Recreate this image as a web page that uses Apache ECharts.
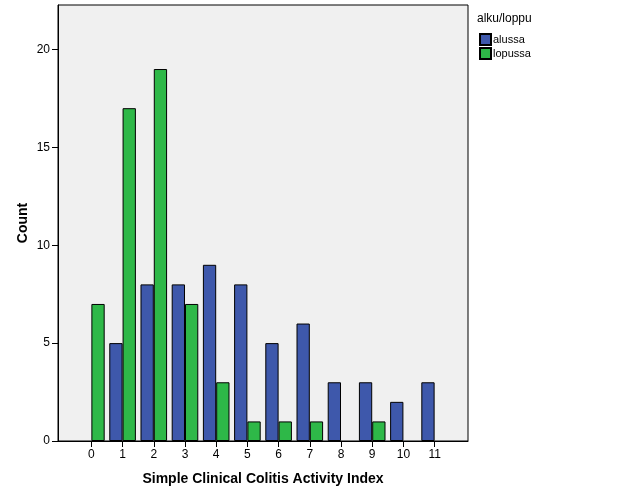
<!DOCTYPE html>
<html>
<head>
<meta charset="utf-8">
<script src="https://cdn.jsdelivr.net/npm/echarts@6/dist/echarts.min.js"></script>
<style>
html,body{margin:0;padding:0;background:#fff;}
#c{width:626px;height:501px;}
</style>
</head>
<body>
<div id="c"></div>
<script>
const categories = [0,1,2,3,4,5,6,7,8,9,10,11];
const alussa  = [0,5,8,8,9,8,5,6,3,3,2,3];
const lopussa = [7,17,19,7,3,1,1,1,0,1,0,0];
const yTicks = [0,5,10,15,20];
const legendTitle = 'alku/loppu';
const seriesNames = ['alussa','lopussa'];

const FONT = 'Liberation Sans, Arial, sans-serif';
function toData(vals){ return vals.map((v,i)=> v === 0 ? [categories[i], '-'] : [categories[i], v]); }

const chart = echarts.init(document.getElementById('c'));
chart.setOption({
  backgroundColor:'#fff',
  animation:false,
  textStyle:{fontFamily:FONT},
  title:{text:legendTitle,left:477,top:13,padding:0,textStyle:{fontSize:12,fontWeight:'normal',color:'#000',fontFamily:FONT}},
  legend:{
    orient:'vertical',left:479,top:33,padding:0,itemWidth:11,itemHeight:11,itemGap:1,
    icon:'rect',
    textStyle:{fontSize:11,color:'#000',fontFamily:FONT,padding:[0,0,0,-3]},
    data:seriesNames
  },
  grid:{left:58,top:5,width:410,height:436,show:true,backgroundColor:'#f0f0f0',borderColor:'#000',borderWidth:1,containLabel:false},
  xAxis:{
    type:'value',min:-1.07,max:12.07,
    name:'Simple Clinical Colitis Activity Index',nameLocation:'middle',nameGap:31,nameMoveOverlap:false,
    nameTextStyle:{fontSize:14,fontWeight:'bold',color:'#000',fontFamily:FONT},
    axisLine:{show:true,onZero:false,lineStyle:{color:'#000',width:1}},
    axisTick:{show:true,length:6,lineStyle:{color:'#000',width:1},customValues:categories},
    axisLabel:{color:'#000',fontSize:12,margin:8,customValues:categories,fontFamily:FONT},
    splitLine:{show:false}
  },
  yAxis:{
    type:'value',min:0,max:22.27,
    name:'Count',nameLocation:'middle',nameGap:28,nameMoveOverlap:false,
    nameTextStyle:{fontSize:14,fontWeight:'bold',color:'#000',fontFamily:FONT},
    axisLine:{show:true,onZero:false,lineStyle:{color:'#000',width:1}},
    axisTick:{show:true,length:6,lineStyle:{color:'#000',width:1},customValues:yTicks},
    axisLabel:{color:'#000',fontSize:12,margin:8,customValues:yTicks,fontFamily:FONT},
    splitLine:{show:false}
  },
  series:[
    {name:seriesNames[0],type:'bar',data:toData(alussa),barWidth:13.3,barGap:'0%',
     itemStyle:{color:'#3e58ab',borderColor:'#000',borderWidth:1}},
    {name:seriesNames[1],type:'bar',data:toData(lopussa),barWidth:13.3,barGap:'0%',
     itemStyle:{color:'#2eb848',borderColor:'#000',borderWidth:1}}
  ]
});
</script>
</body>
</html>
